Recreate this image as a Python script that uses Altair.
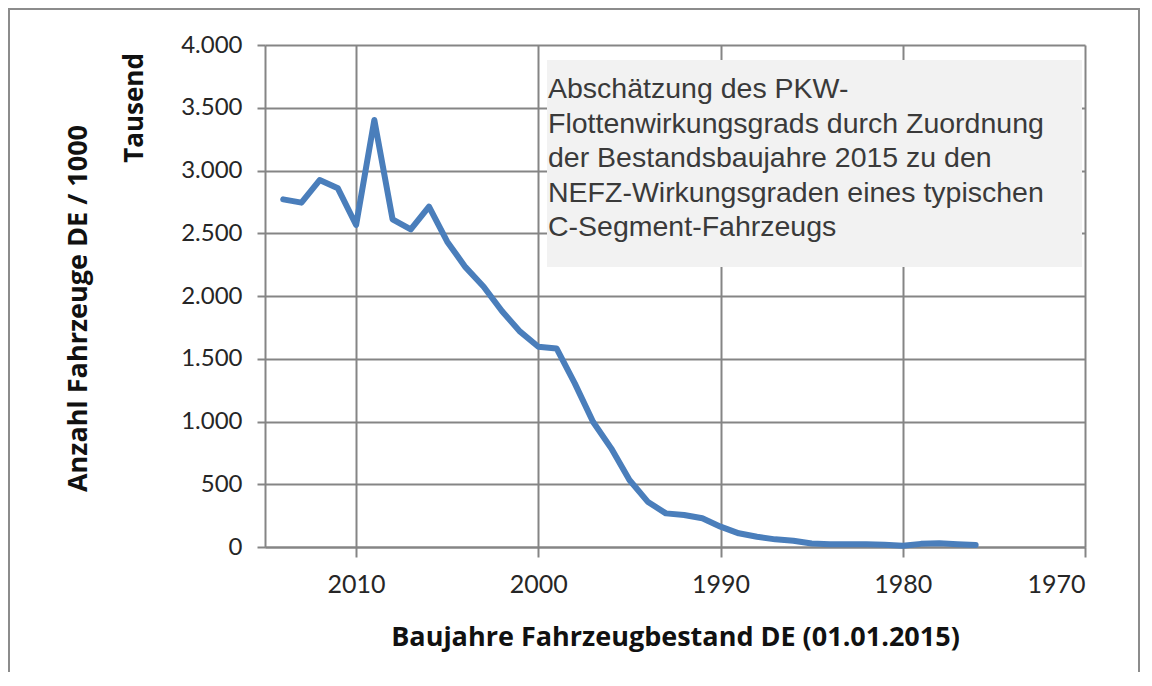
import altair as alt
import pandas as pd

# Data (vehicles in thousands by model year)
years = [2014, 2013, 2012, 2011, 2010, 2009, 2008, 2007, 2006, 2005,
         2004, 2003, 2002, 2001, 2000, 1999, 1998, 1997, 1996, 1995,
         1994, 1993, 1992, 1991, 1990, 1989, 1988, 1987, 1986, 1985,
         1984, 1983, 1982, 1981, 1980, 1979, 1978, 1977, 1976]
values = [2770, 2744, 2924, 2858, 2566, 3402, 2611, 2531, 2712, 2433,
          2230, 2074, 1880, 1716, 1596, 1582, 1304, 998, 786, 534,
          361, 268, 255, 229, 162, 109, 82, 61, 50, 28,
          22, 22, 22, 18, 10, 25, 30, 22, 16]

x_ticks = [2010, 2000, 1990, 1980, 1970]
y_ticks = [0, 500, 1000, 1500, 2000, 2500, 3000, 3500, 4000]

x_title = "Baujahre Fahrzeugbestand DE (01.01.2015)"
y_title = "Anzahl Fahrzeuge DE / 1000"
unit_label = "Tausend"
note_lines = [
    "Abschätzung des PKW-",
    "Flottenwirkungsgrads durch Zuordnung",
    "der Bestandsbaujahre 2015 zu den",
    "NEFZ-Wirkungsgraden eines typischen",
    "C-Segment-Fahrzeugs",
]

df = pd.DataFrame({"jahr": years, "anzahl": values})

GRID = "#858585"
LABEL_FONT = "Lato"
TITLE_FONT = "Open Sans"

x_enc = alt.X(
    "jahr:Q",
    scale=alt.Scale(domain=[1970, 2015], reverse=True, nice=False, zero=False),
    axis=alt.Axis(
        values=x_ticks, format="d", grid=True, gridColor=GRID, gridWidth=2,
        domainColor=GRID, domainWidth=2, tickColor=GRID, tickWidth=2, tickSize=10,
        labelFont=LABEL_FONT, labelFontSize=25, labelColor="#262626", labelPadding=15,
        title=x_title, titleFont=TITLE_FONT, titleFontSize=27, titleFontWeight="bold",
        titleColor="#111111", titleBaseline="middle", titleY=90,
    ),
)
y_enc = alt.Y(
    "anzahl:Q",
    scale=alt.Scale(domain=[0, 4000], nice=False),
    axis=alt.Axis(
        values=y_ticks, grid=True, gridColor=GRID, gridWidth=2,
        labelExpr="replace(format(datum.value, ','), ',', '.')",
        domainColor=GRID, domainWidth=2, tickColor=GRID, tickWidth=2, tickSize=8,
        labelFont=LABEL_FONT, labelFontSize=24, labelColor="#262626", labelPadding=15,
        title=y_title, titleFont=TITLE_FONT, titleFontSize=27, titleFontWeight="bold",
        titleColor="#111111", titleBaseline="middle", titleAngle=270,
        titleX=-187, titleY=263,
    ),
)

base = alt.Chart(df)

line = base.mark_line(
    color="#4a7ebb", strokeWidth=6, strokeJoin="round", strokeCap="round"
).encode(x=x_enc, y=y_enc)

note_box = base.mark_rect(fill="#f2f2f2").encode(
    x=alt.value(282), x2=alt.value(817), y=alt.value(15), y2=alt.value(222)
)

note_df = pd.DataFrame({"t": [note_lines]})
note_text = alt.Chart(note_df).mark_text(
    align="left", baseline="top", font="Liberation Sans", fontSize=28.5,
    lineHeight=34.5, color="#3a3a3a"
).encode(text="t", x=alt.value(283), y=alt.value(30))

unit_df = pd.DataFrame({"t": [unit_label]})
unit_text = alt.Chart(unit_df).mark_text(
    align="center", baseline="middle", angle=270, font=TITLE_FONT,
    fontSize=26, fontWeight="bold", color="#111111"
).encode(text="t", x=alt.value(-130), y=alt.value(63))

frame_df = pd.DataFrame({"f": [1]})
frame = alt.Chart(frame_df).mark_rect(
    fill="transparent", stroke="#8c8c8c", strokeWidth=2
).encode(x=alt.value(-256), x2=alt.value(874), y=alt.value(-36), y2=alt.value(700))

chart = alt.layer(frame, line, note_box, note_text, unit_text).properties(
    width=820, height=502,
    autosize=alt.AutoSizeParams(type="none"),
    padding={"left": 257, "top": 37, "right": 59, "bottom": 125},
    background="white",
).configure_view(stroke=None)

chart.save("out.html", embed_options={"renderer": "svg", "actions": False})
